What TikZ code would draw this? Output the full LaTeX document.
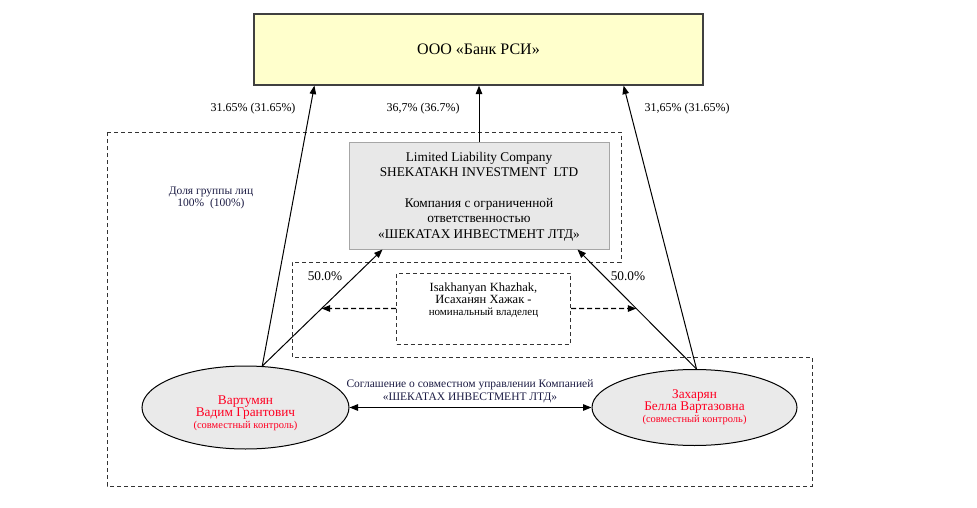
\documentclass[tikz,border=0pt]{standalone}
\usepackage{fontspec}
\setmainfont{Liberation Serif}
\usetikzlibrary{arrows.meta,shapes.geometric,calc}
\definecolor{bankfill}{HTML}{FFFFCC}
\definecolor{bankdraw}{HTML}{404040}
\definecolor{shekfill}{HTML}{E8E8E8}
\definecolor{shekdraw}{HTML}{A6A6A6}
\definecolor{ellfill}{HTML}{EAEAEA}
\definecolor{redtxt}{HTML}{FF0022}
\definecolor{navytxt}{HTML}{1C1C44}
\definecolor{dashgray}{HTML}{333333}
\begin{document}
\begin{tikzpicture}[x=1pt,y=-1pt,
  conn/.style={-{Triangle[length=8.5pt,width=6.5pt]},line width=1pt},
  dashconn/.style={-{Triangle[length=8.5pt,width=6.5pt]},line width=1.3pt,dash pattern=on 5pt off 3pt},
  dblconn/.style={{Triangle[length=8.5pt,width=6.5pt]}-{Triangle[length=8.5pt,width=6.5pt]},line width=1.2pt},
  grp/.style={draw=dashgray,line width=0.9pt,dash pattern=on 4pt off 3pt},
  txt/.style={inner sep=0pt,align=center},
  pct/.style={txt,font=\fontsize{12}{14}\selectfont},
  ell/.style={ellipse,draw=black,fill=ellfill,line width=1pt,inner sep=0pt}]
\useasboundingbox (0,0) rectangle (977,508);

% group outline
\draw[grp] (107,132) -- (621,132) -- (621,262) -- (292,262) -- (292,357)
  -- (812,357) -- (812,486) -- (107,486) -- cycle;

% boxes
\node[draw=bankdraw,fill=bankfill,line width=1.2pt,minimum width=449pt,minimum height=71pt,inner sep=0pt,
  font=\fontsize{16}{19}\selectfont] (bank) at (478.5,49.5) {ООО «Банк РСИ»};
\node[draw=shekdraw,fill=shekfill,line width=1pt,minimum width=260pt,minimum height=106pt,inner sep=0pt] (shek) at (479,196) {};
\node[txt,font=\fontsize{13.3}{15.4}\selectfont] (shektxt) at (479,196.5)
  {Limited Liability Company\\SHEKATAKH INVESTMENT~ LTD\\[15.4pt]Компания с ограниченной\\ответственностью\\«ШЕКАТАХ ИНВЕСТМЕНТ ЛТД»};

\node[draw=dashgray,line width=1pt,dash pattern=on 4pt off 3pt,minimum width=174pt,minimum height=71pt,inner sep=0pt] (isak) at (483.5,308.5) {};
\node[txt,text=black] (isaktxt) at (483.5,300.5)
  {\fontsize{12.5}{13.5}\selectfont Isakhanyan Khazhak,\\\fontsize{12.5}{13.5}\selectfont Исаханян Хажак -\\\fontsize{11}{13.5}\selectfont номинальный владелец};

% ellipses
\node[ell,minimum width=207pt,minimum height=83pt] (vart) at (245.5,407.5) {};
\node[txt,text=redtxt] (varttxt) at (245.5,413)
  {\fontsize{13.3}{15}\selectfont Вартумян\\\fontsize{13.3}{15}\selectfont Вадим Грантович\\\fontsize{10.5}{14}\selectfont (совместный контроль)};
\node[ell,minimum width=205pt,minimum height=76pt] (zakh) at (694.5,407.5) {};
\node[txt,text=redtxt] (zakhtxt) at (694.5,407.5)
  {\fontsize{13.3}{15}\selectfont Захарян\\\fontsize{13.3}{15}\selectfont Белла Вартазовна\\\fontsize{10.5}{14}\selectfont (совместный контроль)};

% anchor coordinates
\coordinate (vs) at (vart.68);
\coordinate (zs) at (zakh.87);
\coordinate (vb) at ([xshift=61pt]bank.south west);
\coordinate (zb) at ([xshift=-80pt]bank.south east);
\coordinate (vsh) at ([xshift=34pt]shek.south west);
\coordinate (zsh) at ([xshift=-32pt]shek.south east);

% connectors
\draw[conn] (vs) -- (vb);
\draw[conn] (zs) -- (zb);
\draw[conn] (shek.north) -- (shek.north |- bank.south);
\draw[conn] (vs) -- (vsh);
\draw[conn] (zs) -- (zsh);
\draw[dashconn] (isak.west) -- (intersection of isak.west--isak.east and vs--vsh);
\draw[dashconn] (isak.east) -- (intersection of isak.west--isak.east and zs--zsh);
\draw[dblconn] (vart.east) -- (zakh.west);

% labels
\node[pct] (p1) at (253,109) {31.65\% (31.65\%)};
\node[pct] (p2) at (423,109) {36,7\% (36.7\%)};
\node[pct] (p3) at (687,109) {31,65\% (31.65\%)};
\node[txt,text=navytxt,font=\fontsize{11.5}{12.5}\selectfont] (dolya) at (211,198) {Доля группы лиц\\100\%~ (100\%)};
\node[txt,font=\fontsize{13.3}{15}\selectfont] (h1) at (325,276) {50.0\%};
\node[txt,font=\fontsize{13.3}{15}\selectfont] (h2) at (628,276) {50.0\%};
\node[txt,text=navytxt,font=\fontsize{11.5}{13}\selectfont] (agr) at (470,391.5)
  {Соглашение о совместном управлении Компанией\\«ШЕКАТАХ ИНВЕСТМЕНТ ЛТД»};
\end{tikzpicture}
\end{document}
